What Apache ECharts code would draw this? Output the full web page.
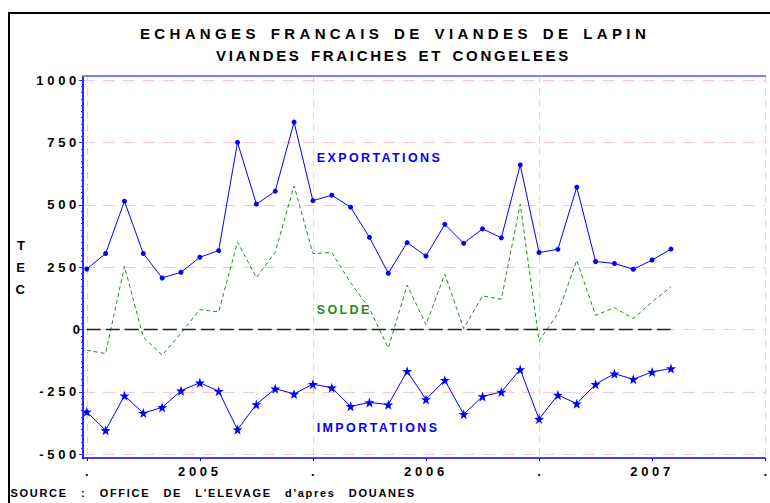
<!DOCTYPE html>
<html>
<head>
<meta charset="utf-8">
<script src="https://cdn.jsdelivr.net/npm/echarts@6/dist/echarts.min.js"></script>
<style>
  html, body { margin: 0; padding: 0; background: #fff; }
  #main { width: 770px; height: 503px; }
</style>
</head>
<body>
<div id="main"></div>
<script>
// months from Jan 2005 to Aug 2007
const months = [
  '2005-01', '2005-02', '2005-03', '2005-04', '2005-05', '2005-06',
  '2005-07', '2005-08', '2005-09', '2005-10', '2005-11', '2005-12',
  '2006-01', '2006-02', '2006-03', '2006-04', '2006-05', '2006-06',
  '2006-07', '2006-08', '2006-09', '2006-10', '2006-11', '2006-12',
  '2007-01', '2007-02', '2007-03', '2007-04', '2007-05', '2007-06',
  '2007-07', '2007-08'
]
const exportsT = [243, 305, 515, 305, 207, 230, 290, 317, 751, 503, 555, 832,
  517, 539, 491, 370, 226, 349, 295, 422, 346, 404, 368, 660,
  309, 322, 571, 273, 265, 242, 279, 323]
const importsT = [-330, -404, -265, -335, -312, -245, -213, -247, -401, -300, -237, -258,
  -219, -233, -308, -292, -301, -167, -280, -203, -340, -268, -250, -160,
  -359, -262, -297, -219, -177, -199, -170, -156]
const soldeT = [-83, -96, 253, -30, -103, -14, 80, 71, 351, 208, 311, 576,
  305, 309, 188, 84, -74, 178, 20, 222, 4, 135, 122, 503,
  -45, 64, 278, 57, 88, 44, 111, 171]

const yTicks = [-500, -250, 0, 250, 500, 750, 1000]
const xTickValues = [0, 6, 12, 18, 24, 30, 36]
const xTickLabels = ['.', '2005', '.', '2006', '.', '2007', '.']
const xYearBounds = [0, 12, 24, 36]

const titleText = 'ECHANGES FRANCAIS DE VIANDES DE LAPIN'
const subtitleText = 'VIANDES FRAICHES ET CONGELEES'
const sourceText = "SOURCE : OFFICE DE L'ELEVAGE d'apres DOUANES"
const annotTexts = ['EXPORTATIONS', 'SOLDE', 'IMPORTATIONS']

// minor ticks every 25 on the y axis
const yMinor = []
for (let v = -500; v <= 1000; v += 25) {
  if (v % 250 !== 0) yMinor.push(v)
}

const FONT = 'Liberation Sans, Arial, sans-serif'
const BLUE = '#0000ff'
const GREEN = '#228b22'
const PINK = '#ffc4cf'

const chart = echarts.init(document.getElementById('main'), null, { renderer: 'svg' })

const starPath = 'path://M100,0 L123.5,67.6 L195.1,69.1 L138,112.4 L158.8,180.9 L100,140 L41.2,180.9 L62,112.4 L4.9,69.1 L76.5,67.6 Z'

const option = {
  animation: false,
  backgroundColor: '#fff',
  grid: { left: 83, right: 1, top: 76, bottom: 45 },
  xAxis: [
    {
      type: 'value',
      min: -0.2,
      max: 36,
      position: 'bottom',
      axisLine: { show: true, onZero: false, lineStyle: { color: BLUE, width: 1.5 } },
      axisTick: { show: true, customValues: xTickValues, length: 3, lineStyle: { color: BLUE } },
      axisLabel: {
        customValues: xTickValues,
        formatter: v => xTickLabels[xTickValues.indexOf(v)],
        margin: 7,
        color: '#000',
        fontWeight: 'bold',
        fontSize: 13,
        fontFamily: FONT
      },
      splitLine: { show: false }
    },
    {
      type: 'value',
      min: -0.2,
      max: 36,
      position: 'top',
      axisLine: { show: true, onZero: false, lineStyle: { color: '#8080ff', width: 2 } },
      axisTick: { show: false, customValues: xYearBounds },
      axisLabel: { show: false },
      splitLine: { show: true, lineStyle: { color: PINK, type: [7, 5], width: 1 } }
    }
  ],
  yAxis: [
    {
      type: 'value',
      min: -515,
      max: 1017,
      position: 'left',
      axisLine: { show: true, onZero: false, lineStyle: { color: '#2b2bff', width: 2 } },
      axisTick: { show: true, customValues: yTicks, length: 4, lineStyle: { color: '#2b2bff' } },
      axisLabel: {
        customValues: yTicks,
        formatter: v => String(v),
        margin: 3,
        color: '#000',
        fontWeight: 'bold',
        fontSize: 13,
        fontFamily: FONT
      },
      splitLine: { show: true, lineStyle: { color: PINK, type: [12, 8], width: 1 } },
      name: 'T\nE\nC',
      nameLocation: 'middle',
      nameRotate: 0,
      nameGap: 58,
      nameTextStyle: { color: '#000', fontWeight: 'bold', fontSize: 13, fontFamily: FONT, lineHeight: 22 }
    },
    {
      type: 'value',
      min: -515,
      max: 1017,
      position: 'left',
      axisLine: { show: false, onZero: false },
      axisTick: { show: true, customValues: yMinor, length: 2, lineStyle: { color: '#2b2bff' } },
      axisLabel: { show: false },
      splitLine: { show: false }
    }
  ],
  series: [
    {
      name: 'zero',
      type: 'line',
      data: [],
      markLine: {
        silent: true,
        symbol: 'none',
        label: { show: false },
        lineStyle: { color: '#222', type: [14, 5], width: 1.3 },
        data: [[{ coord: [0, 0] }, { coord: [months.length - 1, 0] }]]
      }
    },
    {
      name: 'SOLDE',
      type: 'line',
      data: months.map((m, i) => [i, soldeT[i]]),
      showSymbol: false,
      symbol: 'none',
      lineStyle: { color: GREEN, width: 1, type: [4, 3] }
    },
    {
      name: 'EXPORTATIONS',
      type: 'line',
      data: months.map((m, i) => [i, exportsT[i]]),
      symbol: 'circle',
      symbolSize: 5,
      itemStyle: { color: BLUE },
      lineStyle: { color: BLUE, width: 1 }
    },
    {
      name: 'IMPORTATIONS',
      type: 'line',
      data: months.map((m, i) => [i, importsT[i]]),
      symbol: starPath,
      symbolSize: 10,
      itemStyle: { color: BLUE },
      lineStyle: { color: BLUE, width: 1 }
    }
  ]
}
chart.setOption(option)

// series labels placed in data space
const annotX = 12.2
const annotY = [690, 77, -395]
const annotColor = [BLUE, GREEN, BLUE]
const annots = annotTexts.map((t, k) => {
  const p = chart.convertToPixel({ xAxisIndex: 0, yAxisIndex: 0 }, [annotX, annotY[k]])
  return {
    type: 'text',
    x: p[0],
    y: p[1],
    style: { text: t, fill: annotColor[k], font: 'bold 12.5px ' + FONT, textAlign: 'left', textVerticalAlign: 'middle' }
  }
})

chart.setOption({
  graphic: [
    {
      type: 'polyline',
      shape: { points: [[9, 503], [9, 13], [770, 13]] },
      style: { stroke: '#000', lineWidth: 2, fill: null }
    },
    {
      type: 'text', x: 395, y: 33.5,
      style: { text: titleText, fill: '#000', font: 'bold 15px ' + FONT, textAlign: 'center', textVerticalAlign: 'middle' }
    },
    {
      type: 'text', x: 393.5, y: 55,
      style: { text: subtitleText, fill: '#000', font: 'bold 15px ' + FONT, textAlign: 'center', textVerticalAlign: 'middle' }
    },
    {
      type: 'text', x: 10.5, y: 493.3,
      style: { text: sourceText, fill: '#000', font: 'bold 11px ' + FONT, textAlign: 'left', textVerticalAlign: 'middle' }
    }
  ].concat(annots)
})

// the original typesetting is widely letter-spaced
function spacingFor (t) {
  if (t === titleText) return [4.35, 2.5]
  if (t === subtitleText) return [2.7, 2.5]
  if (t === sourceText) return [1.7, 8.5]
  if (annotTexts.indexOf(t) >= 0) return [2.4, 0]
  if (t.length <= 1) return [0, 0]
  return [3.7, 0]
}
function applySpacing () {
  document.querySelectorAll('#main svg text').forEach(el => {
    const s = spacingFor(el.textContent)
    el.setAttribute('letter-spacing', s[0] + 'px')
    el.setAttribute('word-spacing', s[1] + 'px')
  })
}
chart.on('finished', applySpacing)
applySpacing()
</script>
</body>
</html>
